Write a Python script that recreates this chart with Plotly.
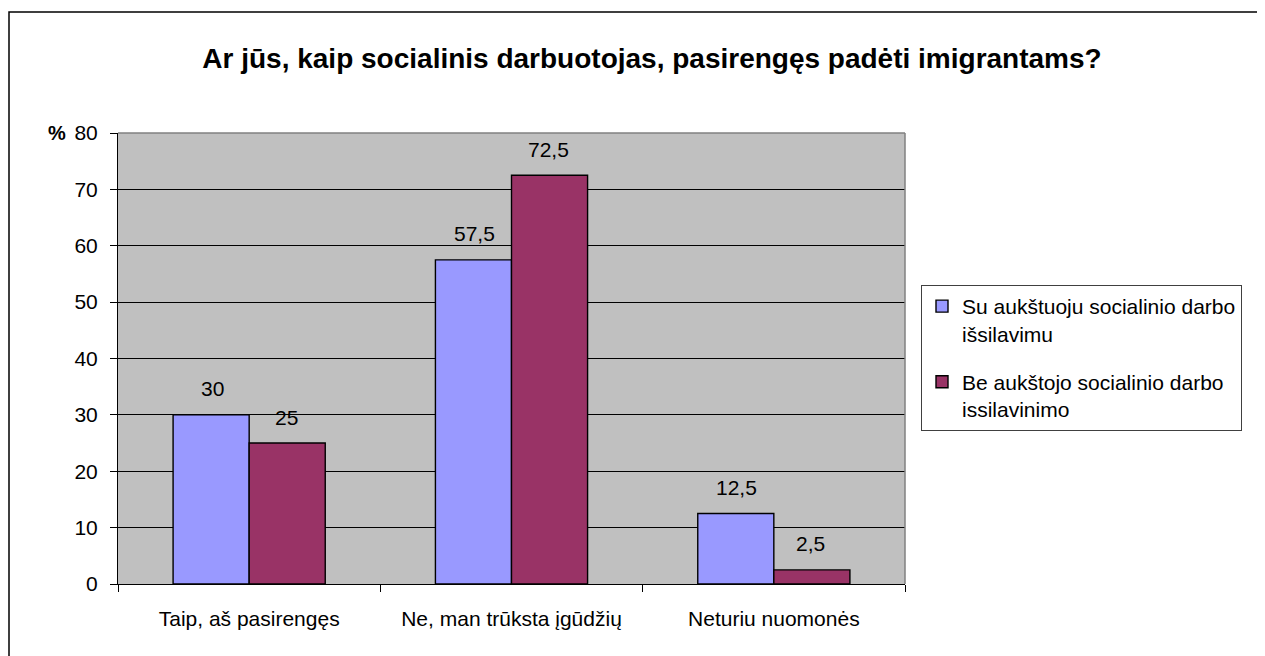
import plotly.graph_objects as go

categories = ["Taip, aš pasirengęs", "Ne, man trūksta įgūdžių", "Neturiu nuomonės"]
series_names = ["Su aukštuoju socialinio darbo<br>išsilavimu",
                "Be aukštojo socialinio darbo<br>issilavinimo"]
with_edu = [30, 57.5, 12.5]
without_edu = [25, 72.5, 2.5]
colors = ["#9999FF", "#993366"]

# page has an 8px body margin, so the figure is a bit smaller than the window
OFF = 8
W, H = 1265 - OFF, 656 - OFF
L, T = 118 - OFF, 133 - OFF
pw, ph = 787, 451
R, B = W - L - pw, H - T - ph

def px_x(p):
    return (p - OFF - L) / pw

def px_y(p):
    return (T + ph - (p - OFF)) / ph

def fmt(v):
    return ("%g" % v).replace(".", ",")

fig = go.Figure()
for i, (name, vals, col) in enumerate(zip(series_names, [with_edu, without_edu], colors)):
    fig.add_trace(go.Bar(
        x=categories, y=vals, name=name, legendgroup="g%d" % i,
        marker=dict(color=col, line=dict(color="black", width=1.4)),
    ))

# data labels above bars
annotations = []
for k, vals in enumerate([with_edu, without_edu]):
    for c, v in zip(categories, vals):
        annotations.append(dict(
            x=c, y=v, xref="x", yref="y", text=fmt(v), showarrow=False,
            xshift=-37 if k == 0 else 37, yshift=26,
            font=dict(size=21, color="black"),
        ))

annotations.append(dict(
    x=px_x(57), y=1, xref="paper", yref="paper", text="<b>%</b>",
    showarrow=False, font=dict(size=20, color="black"),
    xanchor="center", yanchor="middle",
))

fig.update_layout(
    width=W, height=H,
    margin=dict(l=L, r=R, t=T, b=B),
    paper_bgcolor="white",
    plot_bgcolor="#C0C0C0",
    font=dict(family="Arial, Liberation Sans, sans-serif", color="black", size=21),
    title=dict(
        text="<b>Ar jūs, kaip socialinis darbuotojas, pasirengęs padėti imigrantams?</b>",
        x=(652 - OFF) / W, y=1 - (58 - OFF) / H, xref="container", yref="container",
        xanchor="center", yanchor="middle",
        font=dict(size=28, color="black"),
    ),
    barmode="group", bargap=0.42, bargroupgap=0,
    xaxis=dict(
        showline=True, linecolor="black", linewidth=1,
        ticks="outside", tickson="boundaries", ticklen=7, tickcolor="black",
        ticklabelstandoff=16, tickfont=dict(size=21),
        showgrid=False,
    ),
    yaxis=dict(
        range=[0, 80], dtick=10,
        showline=True, linecolor="black", linewidth=1,
        ticks="outside", ticklen=7, tickcolor="black",
        ticklabelstandoff=8, tickfont=dict(size=21),
        showgrid=True, gridcolor="black", gridwidth=1,
        zeroline=False,
    ),
    legend=dict(
        x=px_x(921), y=px_y(285), xanchor="left", yanchor="top",
        bordercolor="#404040", borderwidth=1, bgcolor="white",
        font=dict(size=21), tracegroupgap=18, valign="top",
        itemwidth=30,
    ),
    annotations=annotations,
    shapes=[
        dict(type="line", xref="paper", yref="paper", x0=0, x1=1, y0=1, y1=1,
             line=dict(color="#808080", width=1.5)),
        dict(type="line", xref="paper", yref="paper", x0=1, x1=1, y0=0, y1=1,
             line=dict(color="#808080", width=1.5)),
        dict(type="rect", xref="paper", yref="paper",
             x0=px_x(9), x1=px_x(1300), y0=px_y(700), y1=px_y(12),
             line=dict(color="black", width=1.5), layer="below"),
    ],
)

fig.write_html("out.html")
